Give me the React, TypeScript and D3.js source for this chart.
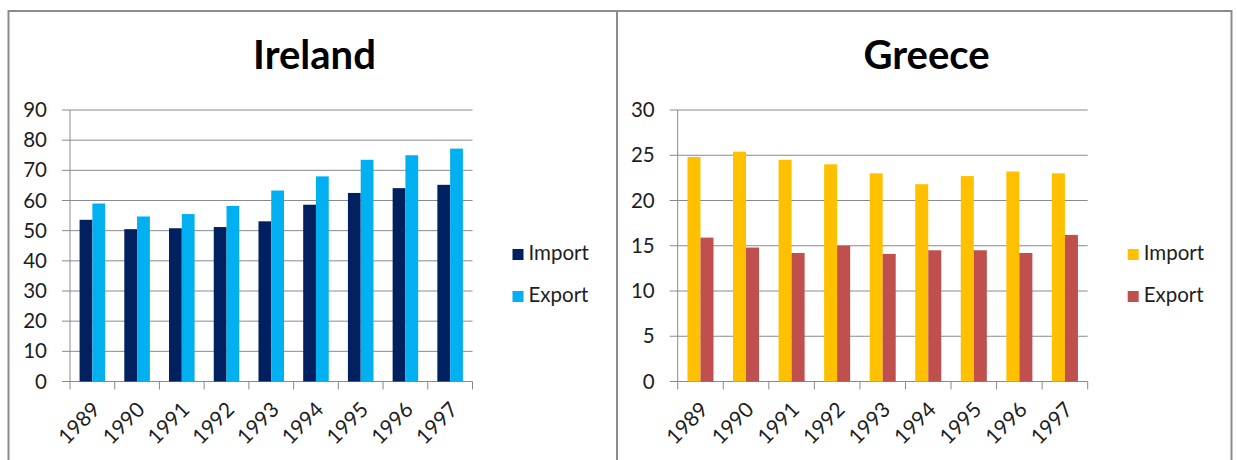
import React from "react";
import * as d3 from "d3";

const years = ["1989", "1990", "1991", "1992", "1993", "1994", "1995", "1996", "1997"];

const irelandImport = [53.6, 50.5, 50.8, 51.2, 53.1, 58.6, 62.5, 64.1, 65.2];
const irelandExport = [59.0, 54.7, 55.5, 58.2, 63.3, 68.0, 73.5, 75.0, 77.2];
const irelandTicks = [0, 10, 20, 30, 40, 50, 60, 70, 80, 90];

const greeceImport = [24.8, 25.4, 24.5, 24.0, 23.0, 21.8, 22.7, 23.2, 23.0];
const greeceExport = [15.9, 14.8, 14.2, 15.0, 14.1, 14.5, 14.5, 14.2, 16.2];
const greeceTicks = [0, 5, 10, 15, 20, 25, 30];

const seriesNames = ["Import", "Export"];

const FONT = "Lato, 'Open Sans', sans-serif";
const GRID = "#8a8a8a";
const INK = "#1e1e1e";

type PanelProps = {
  title: string;
  left: number;
  right: number;
  plotX0: number;
  plotX1: number;
  ticks: number[];
  imports: number[];
  exports: number[];
  colors: [string, string];
};

function Panel({ title, left, right, plotX0, plotX1, ticks, imports, exports, colors }: PanelProps) {
  const plotTop = 110;
  const plotBottom = 381.5;
  const y = d3.scaleLinear().domain([0, d3.max(ticks) as number]).range([plotBottom, plotTop]);
  const x = d3.scaleBand<string>().domain(years).range([plotX0, plotX1]).paddingInner(0).paddingOuter(0);
  // Two bars per category with a 150% gap between groups
  const barW = x.bandwidth() / 3.5;
  const inner = d3.scaleBand<string>().domain(seriesNames).range([0, barW * 2]);
  const groupOffset = (x.bandwidth() - barW * 2) / 2;
  const values = [imports, exports];
  const titleX = (left + right) / 2 + 2;
  const legendX = plotX1 + 40;

  return (
    <g>
      <text x={titleX} y={69} textAnchor="middle" fontFamily={FONT} fontWeight={700} fontSize={40} fill="#000">
        {title}
      </text>

      {ticks.map((t) => (
        <g key={t}>
          <line x1={plotX0 - 8} x2={plotX1} y1={y(t)} y2={y(t)} stroke={GRID} strokeWidth={1} />
          <text x={plotX0 - 23} y={y(t) + 7} textAnchor="end" fontFamily={FONT} fontSize={20.5} fill={INK}>
            {t}
          </text>
        </g>
      ))}

      <line x1={plotX0} x2={plotX0} y1={plotTop} y2={plotBottom} stroke={GRID} strokeWidth={1} />

      {d3.range(years.length + 1).map((i) => {
        const xx = plotX0 + i * x.step();
        return <line key={i} x1={xx} x2={xx} y1={plotBottom} y2={plotBottom + 8} stroke={GRID} strokeWidth={1} />;
      })}

      {years.map((yr, i) => (
        <g key={yr}>
          {seriesNames.map((s, k) => {
            const v = values[k][i];
            const bx = (x(yr) as number) + groupOffset + (inner(s) as number);
            return (
              <rect key={s} x={bx} y={y(v)} width={inner.bandwidth()} height={plotBottom - y(v)} fill={colors[k]} />
            );
          })}
        </g>
      ))}

      {years.map((yr) => {
        const cx = (x(yr) as number) + x.bandwidth() / 2 + 9;
        return (
          <text
            key={yr}
            transform={`translate(${cx},${411}) rotate(-45)`}
            textAnchor="end"
            fontFamily={FONT}
            fontSize={21}
            fill={INK}
          >
            {yr}
          </text>
        );
      })}

      {seriesNames.map((s, k) => {
        const base = 260 + k * 42;
        return (
          <g key={s}>
            <rect x={legendX} y={base - 11} width={11} height={11} fill={colors[k]} />
            <text x={legendX + 16} y={base} fontFamily={FONT} fontSize={20.5} fill={INK}>
              {s}
            </text>
          </g>
        );
      })}
    </g>
  );
}

export default function App() {
  return (
    <svg
      width={1237}
      height={460}
      style={{ position: "absolute", left: 0, top: 0, background: "#fff" }}
    >
      <rect x={0} y={0} width={1237} height={460} fill="#fff" />
      <path d="M8.5,470 V11 H1231.5 V470" fill="none" stroke="#8c8c8c" strokeWidth={2} />
      <line x1={617} x2={617} y1={11} y2={470} stroke="#8c8c8c" strokeWidth={2} />

      <Panel
        title="Ireland"
        left={8}
        right={617}
        plotX0={70}
        plotX1={472.5}
        ticks={irelandTicks}
        imports={irelandImport}
        exports={irelandExport}
        colors={["#002060", "#00b0f0"]}
      />
      <Panel
        title="Greece"
        left={617}
        right={1232}
        plotX0={677.7}
        plotX1={1087.7}
        ticks={greeceTicks}
        imports={greeceImport}
        exports={greeceExport}
        colors={["#ffc000", "#c0504d"]}
      />
    </svg>
  );
}
